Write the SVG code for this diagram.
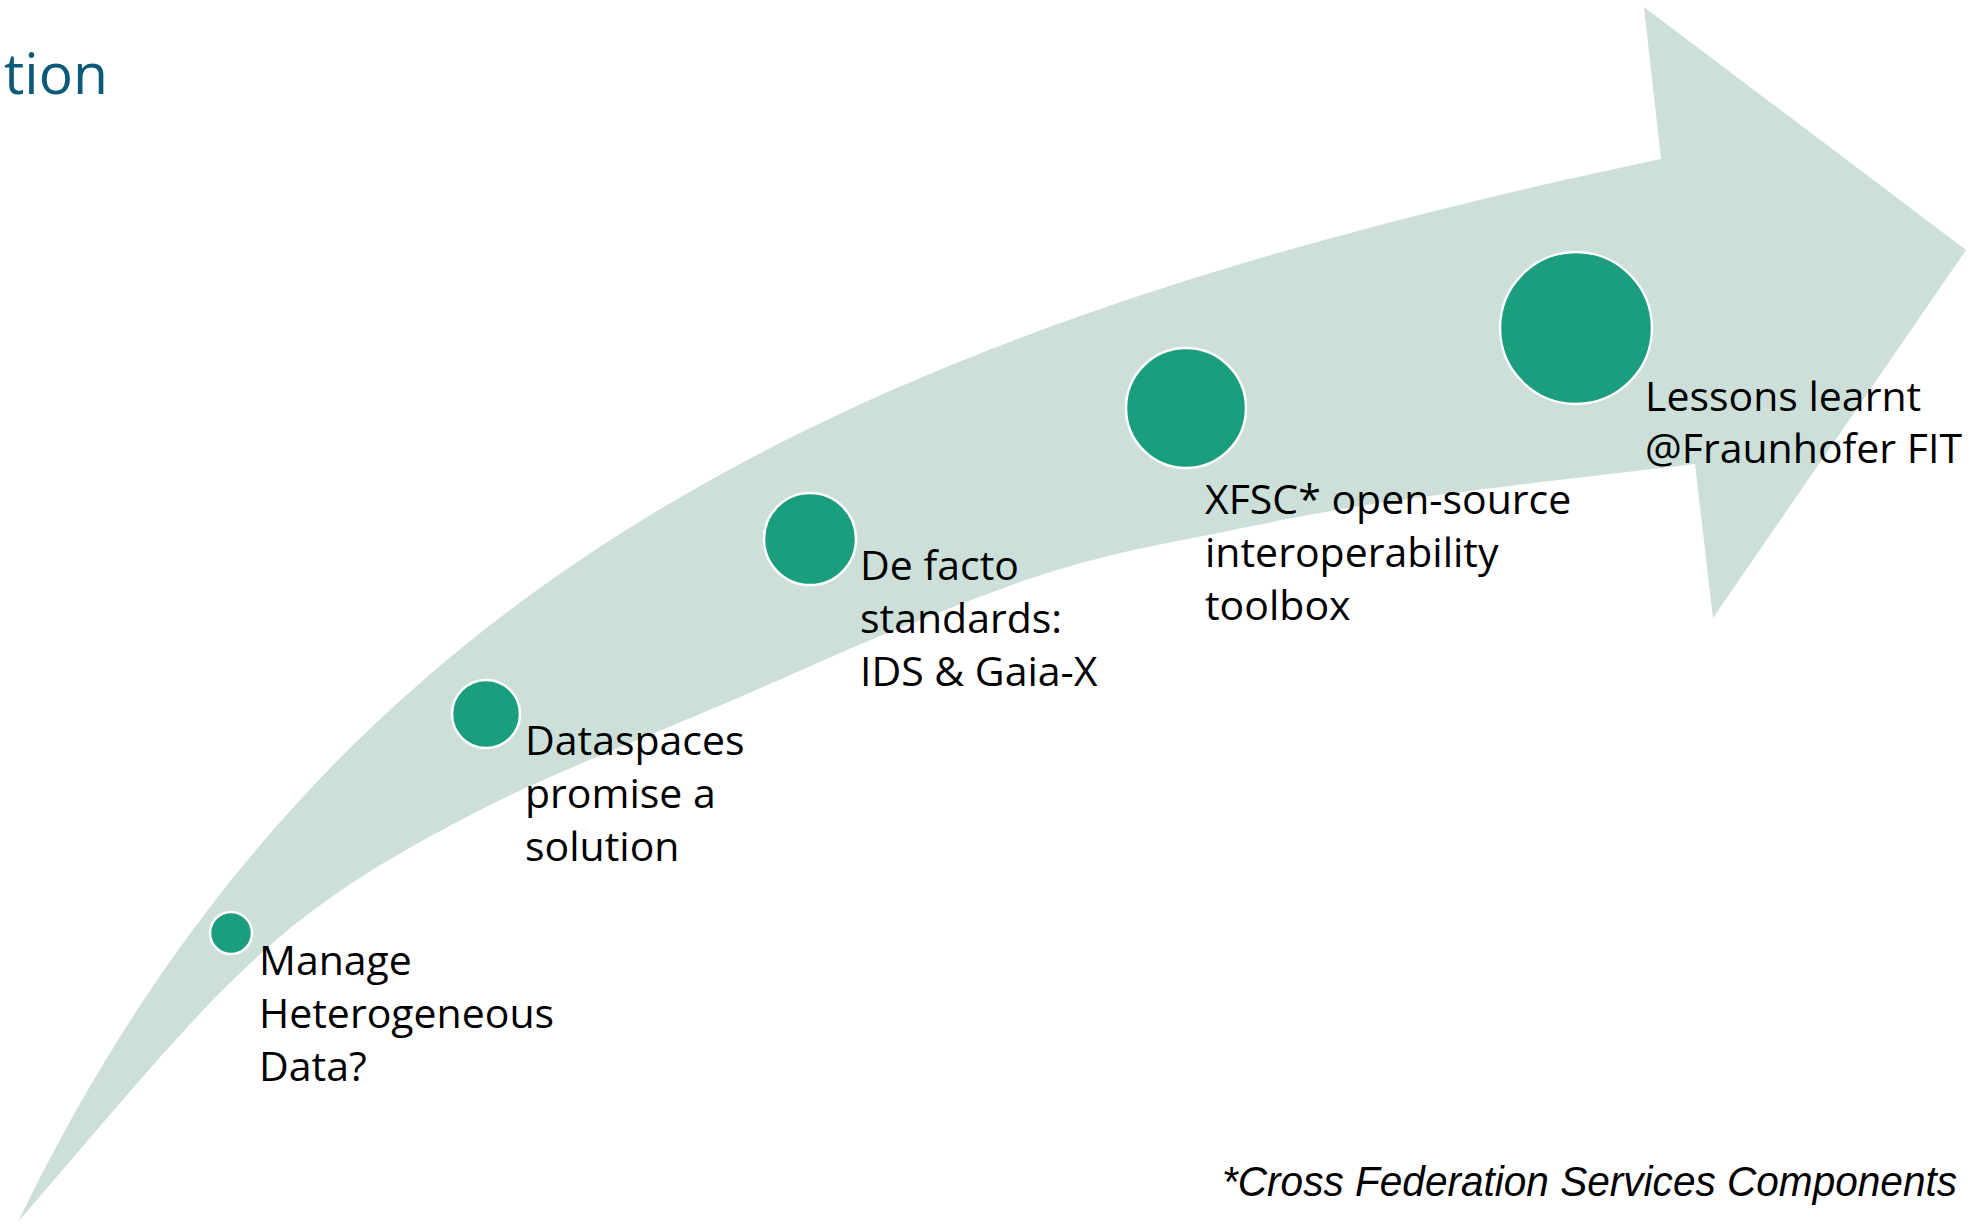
<svg xmlns="http://www.w3.org/2000/svg" width="1985" height="1224" viewBox="0 0 1985 1224">
  <style>
    .band { fill: #CCDFD8; stroke: none; }
    .dot { fill: #1B9E7E; stroke: #FFFFFF; stroke-width: 2.5; }
    .lbl { font-family: "Open Sans", "Noto Sans", "DejaVu Sans", sans-serif; font-size: 41px; fill: #000000; }
    .title { font-family: "Open Sans", "Noto Sans", "DejaVu Sans", sans-serif; font-size: 57px; fill: #0A5A78; }
    .note { font-family: "Liberation Sans", Arial, sans-serif; font-size: 42px; font-style: italic; fill: #000000; }
  </style>
  <rect x="0" y="0" width="1985" height="1224" fill="#FFFFFF"/>

  <text class="title" x="4" y="94">tion</text>

  <g id="arrow">
    <path class="band" d="M 18,1222 C 330,575 861,328 1661,159 L 1644,7 L 1966,250 L 1713,618 L 1695,464 C 1645.8,470 1477,489 1400,500 C 1323,511 1288.5,518.8 1233,530 C 1177.5,541.2 1122.5,550.7 1067,567 C 1011.5,583.3 955.7,605.8 900,628 C 844.3,650.2 799.7,671.3 733,700 C 666.3,728.7 566.7,767.8 500,800 C 270,915 233,972 18,1222 Z"/>
  </g>

  <g id="connectors"></g>

  <g id="step1">
    <circle class="dot" cx="231" cy="933" r="21"/>
    <text class="lbl" x="259" y="975">Manage</text>
    <text class="lbl" x="259" y="1028">Heterogeneous</text>
    <text class="lbl" x="259" y="1081">Data?</text>
  </g>

  <g id="step2">
    <circle class="dot" cx="486" cy="714" r="34"/>
    <text class="lbl" x="525" y="755">Dataspaces</text>
    <text class="lbl" x="525" y="808">promise a</text>
    <text class="lbl" x="525" y="861">solution</text>
  </g>

  <g id="step3">
    <circle class="dot" cx="810" cy="539" r="46"/>
    <text class="lbl" x="860" y="580">De facto</text>
    <text class="lbl" x="860" y="633">standards:</text>
    <text class="lbl" x="860" y="686">IDS &amp; Gaia-X</text>
  </g>

  <g id="step4">
    <circle class="dot" cx="1186" cy="408" r="60"/>
    <text class="lbl" x="1205" y="514">XFSC* open-source</text>
    <text class="lbl" x="1205" y="567">interoperability</text>
    <text class="lbl" x="1205" y="620">toolbox</text>
  </g>

  <g id="step5">
    <circle class="dot" cx="1576" cy="328" r="76"/>
    <text class="lbl" x="1645" y="411">Lessons learnt</text>
    <text class="lbl" x="1645" y="463">@Fraunhofer FIT</text>
  </g>

  <g id="footnote">
    <text class="note" x="1222" y="1196" textLength="735" lengthAdjust="spacingAndGlyphs">*Cross Federation Services Components</text>
  </g>
</svg>
